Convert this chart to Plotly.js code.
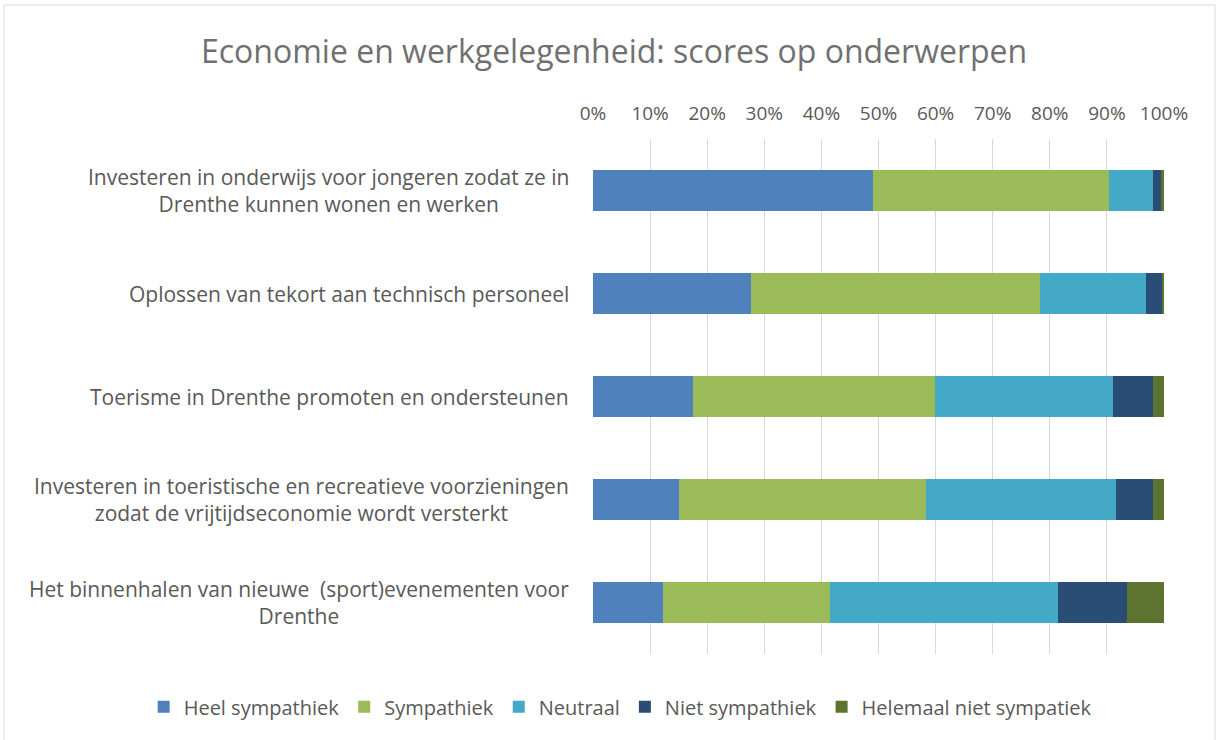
<!DOCTYPE html>
<html>
<head>
<meta charset="utf-8">
<script src="https://cdn.plot.ly/plotly-3.0.1.min.js"></script>
<style>
  html, body { margin: 0; padding: 0; background: #fff; }
  #grafiek { width: 1216px; height: 740px; }
</style>
</head>
<body>
<div id="grafiek"></div>
<script>
// Onderwerpen (van boven naar beneden)
const onderwerpen = [
    'Investeren in onderwijs voor jongeren zodat ze in<br>Drenthe kunnen wonen en werken',
    'Oplossen van tekort aan technisch personeel',
    'Toerisme in Drenthe promoten en ondersteunen',
    'Investeren in toeristische en recreatieve voorzieningen<br>zodat de vrijtijdseconomie wordt versterkt',
    'Het binnenhalen van nieuwe&nbsp; (sport)evenementen voor<br>Drenthe'
];

// Percentages per antwoord
const heelSympathiek = [49.1, 27.6, 17.5, 15.1, 12.3];
const sympathiek = [41.3, 50.7, 42.4, 43.2, 29.2];
const neutraal = [7.7, 18.6, 31.2, 33.3, 40.0];
const nietSympathiek = [1.4, 2.9, 6.9, 6.4, 12.1];
const helemaalNiet = [0.5, 0.2, 2.0, 2.0, 6.4];

const reeksen = [
    { naam: 'Heel sympathiek', waarden: heelSympathiek, kleur: '#4f81bd' },
    { naam: 'Sympathiek', waarden: sympathiek, kleur: '#9bbb59' },
    { naam: 'Neutraal', waarden: neutraal, kleur: '#43a9c6' },
    { naam: 'Niet sympathiek', waarden: nietSympathiek, kleur: '#2a4d75' },
    { naam: 'Helemaal niet sympatiek', waarden: helemaalNiet, kleur: '#5c7430' }
];

const lettertype = 'Open Sans, sans-serif';
const grijs = '#595959';

const data = reeksen.map(r => ({
    type: 'bar',
    orientation: 'h',
    name: r.naam,
    x: r.waarden,
    y: onderwerpen,
    marker: { color: r.kleur, line: { width: 0 } },
    hoverinfo: 'name+x'
}));

// Labels links van de balken, per regel gecentreerd zoals in Excel
const labels = onderwerpen.map(o => ({
    text: o,
    xref: 'x domain',
    x: 0,
    xanchor: 'right',
    xshift: -22,
    yref: 'y',
    y: o,
    align: 'center',
    showarrow: false,
    font: { family: lettertype, size: 21, color: grijs }
}));

const layout = {
    barmode: 'stack',
    bargap: 0.6,
    title: {
        text: 'Economie en werkgelegenheid: scores op onderwerpen',
        font: { family: lettertype, size: 32, color: '#707070' },
        xref: 'container',
        x: 0.505,
        xanchor: 'center',
        yref: 'container',
        y: 0.93,
        yanchor: 'middle'
    },
    xaxis: {
        side: 'top',
        domain: [589 / 1160, 1],
        range: [0, 100],
        dtick: 10,
        ticksuffix: '%',
        ticks: '',
        ticklabelstandoff: 14,
        showgrid: true,
        gridcolor: '#d9d9d9',
        gridwidth: 1,
        zeroline: false,
        showline: false,
        tickfont: { family: lettertype, size: 19, color: grijs },
        fixedrange: true
    },
    yaxis: {
        autorange: 'reversed',
        showticklabels: false,
        showgrid: false,
        zeroline: false,
        showline: false,
        fixedrange: true
    },
    annotations: labels,
    legend: {
        orientation: 'h',
        xref: 'container',
        x: 0.51,
        xanchor: 'center',
        yref: 'container',
        y: 0.045,
        yanchor: 'middle',
        font: { family: lettertype, size: 20, color: grijs },
        itemwidth: 30,
        traceorder: 'normal'
    },
    margin: { l: 4, r: 52, t: 139, b: 86 },
    plot_bgcolor: '#ffffff',
    paper_bgcolor: '#ffffff',
    shapes: [{
        type: 'rect',
        xref: 'paper', yref: 'paper',
        x0: 0, x1: 1 + 51 / 1160,
        y0: -86 / 515 - 10 / 515, y1: 1 + 134 / 515,
        line: { color: '#d9d9d9', width: 1 },
        layer: 'below'
    }],
    showlegend: true
};

Plotly.newPlot('grafiek', data, layout, { displayModeBar: false });
</script>
</body>
</html>
